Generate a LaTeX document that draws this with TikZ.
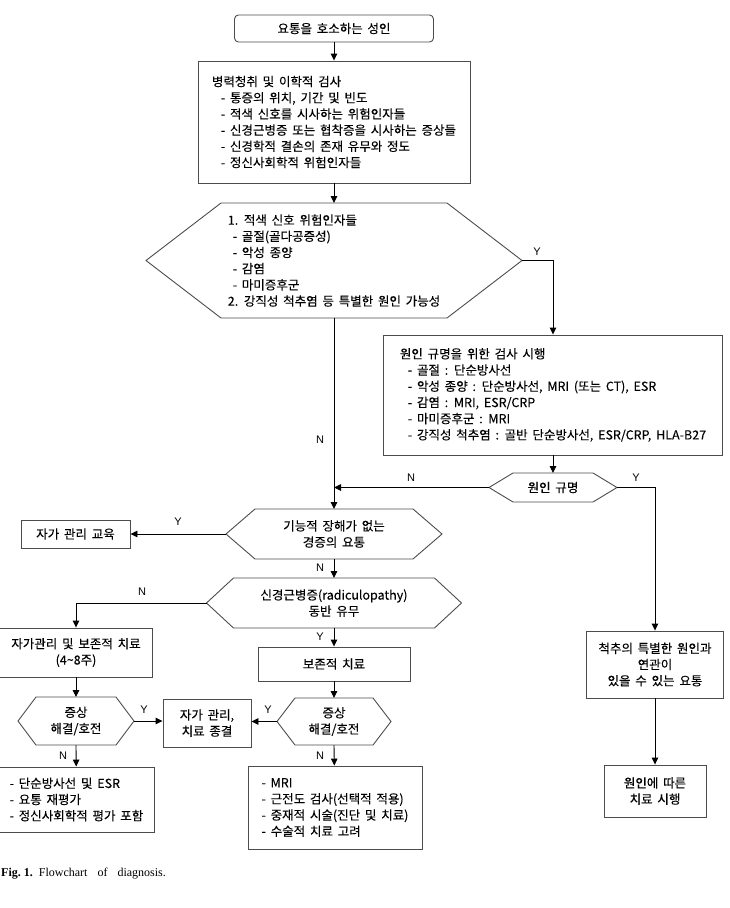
\documentclass[tikz,border=0pt]{standalone}
\usepackage{fontspec}
\setmainfont{Noto Sans CJK KR}[WordSpace=1.7, FakeBold=0.12]
\newfontfamily\labfont{Liberation Sans}
\newfontfamily\capfont{Liberation Serif}
\usetikzlibrary{arrows.meta}
% hexagon: [align], name, cx, cy, half width, inset, half height, text
\newcommand{\hexshape}[8][center]{%
  \draw[hexline] ({#3-#5},#4) -- ({#3-#5+#6},{#4-#7}) -- ({#3+#5-#6},{#4-#7})
    -- ({#3+#5},#4) -- ({#3+#5-#6},{#4+#7}) -- ({#3-#5+#6},{#4+#7}) -- cycle;
  \coordinate (#2-L) at ({#3-#5},#4);
  \coordinate (#2-R) at ({#3+#5},#4);
  \coordinate (#2-T) at (#3,{#4-#7});
  \coordinate (#2-B) at (#3,{#4+#7});
  \node[txt, align=#1] (#2) at (#3,#4) {#8};}
\begin{document}
\begin{tikzpicture}[x=1pt,y=-1pt,
  font=\fontsize{12.5}{16.2}\selectfont,
  box/.style={draw=black!70, line width=0.9pt, inner sep=0pt},
  hexline/.style={draw=black!70, line width=0.9pt},
  txt/.style={inner sep=0pt},
  arr/.style={draw=black, line width=0.9pt, -{Triangle[length=7pt,width=6.5pt]}},
  lab/.style={font=\labfont\fontsize{11}{13}\selectfont, inner sep=0pt},
  ]
\useasboundingbox (0,0) rectangle (729,908);

% top
\node[box, rounded corners=4pt, minimum width=199pt, minimum height=27pt, align=center]
  (start) at (334,28.5) {요통을 호소하는 성인};
\node[box, minimum width=272pt, minimum height=122pt, align=left] (hist) at (334,122)
  {병력청취 및 이학적 검사\\
   \hspace*{9pt}- 통증의 위치, 기간 및 빈도\\
   \hspace*{9pt}- 적색 신호를 시사하는 위험인자들\\
   \hspace*{9pt}- 신경근병증 또는 협착증을 시사하는 증상들\\
   \hspace*{9pt}- 신경학적 결손의 존재 유무와 정도\\
   \hspace*{9pt}- 정신사회학적 위험인자들};

\hexshape[left]{hexA}{334}{260.5}{188}{75}{57.5}{1. 적색 신호 위험인자들\\
   \hspace*{5pt}- 골절(골다공증성)\\
   \hspace*{5pt}- 악성 종양\\
   \hspace*{5pt}- 감염\\
   \hspace*{5pt}- 마미증후군\\
   2. 강직성 척추염 등 특별한 원인 가능성}

\node[box, minimum width=339pt, minimum height=120pt, align=left] (cause) at (553,395)
  {원인 규명을 위한 검사 시행\\
   \hspace*{8pt}- 골절 : 단순방사선\\
   \hspace*{8pt}- 악성 종양 : 단순방사선, MRI (또는 CT), ESR\\
   \hspace*{8pt}- 감염 : MRI, ESR/CRP\\
   \hspace*{8pt}- 마미증후군 : MRI\\
   \hspace*{8pt}- 강직성 척추염 : 골반 단순방사선, ESR/CRP, HLA-B27};

\hexshape{hexB}{553}{487.5}{64}{24}{14.5}{원인 규명}

\node[box, minimum width=137pt, minimum height=67pt, align=center] (special) at (655,664.5)
  {척추의 특별한 원인과\\연관이\\있을 수 있는 요통};
\node[box, minimum width=102pt, minimum height=52pt, align=center] (treat) at (655,791)
  {원인에 따른\\치료 시행};

\hexshape{hexC}{334}{534}{108}{29}{25}{기능적 장해가 없는\\경증의 요통}
\node[box, minimum width=109pt, minimum height=28pt] (edu) at (75.5,534) {자가 관리 교육};

\hexshape{hexD}{334}{603}{127.5}{27}{25}{신경근병증(radiculopathy)\\동반 유무}

\node[box, minimum width=153pt, minimum height=49pt, align=center] (selfcare) at (76,652.5)
  {자가관리 및 보존적 치료\\(4\textasciitilde8주)};
\node[box, minimum width=152pt, minimum height=34pt] (conserv) at (334,664) {보존적 치료};

\hexshape{hexE}{334}{721.5}{57}{18}{23.5}{증상\\해결/호전}
\hexshape{hexF}{76}{721}{58}{18}{24}{증상\\해결/호전}

\node[box, minimum width=88pt, minimum height=48pt, align=center] (endc) at (207,723)
  {자가 관리,\\치료 종결};

\node[box, minimum width=155pt, minimum height=65pt, align=left] (leftres) at (76.5,799.5)
  {- 단순방사선 및 ESR\\- 요통 재평가\\- 정신사회학적 평가 포함};
\node[box, minimum width=174pt, minimum height=83pt, align=left] (rightres) at (335,807.5)
  {- MRI\\- 근전도 검사(선택적 적용)\\- 중재적 시술(진단 및 치료)\\- 수술적 치료 고려};

\coordinate (join) at (334,487.5);

% connectors
\draw[arr] (start) -- (hist);
\draw[arr] (hist) -- (hexA-T);
\draw[arr] (hexA-R) -| (cause);
\draw[arr] (cause) -- (hexB-T);
\draw[arr] (hexB-L) -- (join);
\draw[arr] (hexA-B) -- (hexC-T);
\draw[arr] (hexB-R) -| (special);
\draw[arr] (special) -- (treat);
\draw[arr] (hexC-L) -- (edu);
\draw[arr] (hexC-B) -- (hexD-T);
\draw[arr] (hexD-L) -| (selfcare);
\draw[arr] (hexD-B) -- (conserv);
\draw[arr] (conserv) -- (hexE-T);
\draw[arr] (hexE-L) -- (hexE-L -| endc.east);
\draw[arr] (selfcare) -- (hexF-T);
\draw[arr] (hexF-R) -- (hexF-R -| endc.west);
\draw[arr] (hexF-B) -- (leftres);
\draw[arr] (hexE-B) -- (rightres);

% labels
\node[lab] (l1) at (537,252) {Y};
\node[lab] (l2) at (320,440) {N};
\node[lab] (l3) at (411,478) {N};
\node[lab] (l4) at (636,478) {Y};
\node[lab] (l5) at (178,522) {Y};
\node[lab] (l6) at (320,568) {N};
\node[lab] (l7) at (142,592) {N};
\node[lab] (l8) at (320,637) {Y};
\node[lab] (l9) at (144,710) {Y};
\node[lab] (l10) at (268,710) {Y};
\node[lab] (l11) at (63,756) {N};
\node[lab] (l12) at (320,756) {N};

% caption
\node[anchor=base west, inner sep=0pt, font=\capfont\fontsize{12}{14}\selectfont] (cap) at (1,876)
  {\textbf{Fig.}\hspace{3pt}\textbf{1.}\hspace{6pt}Flowchart\hspace{10pt}of\hspace{10pt}diagnosis.};
\end{tikzpicture}
\end{document}
